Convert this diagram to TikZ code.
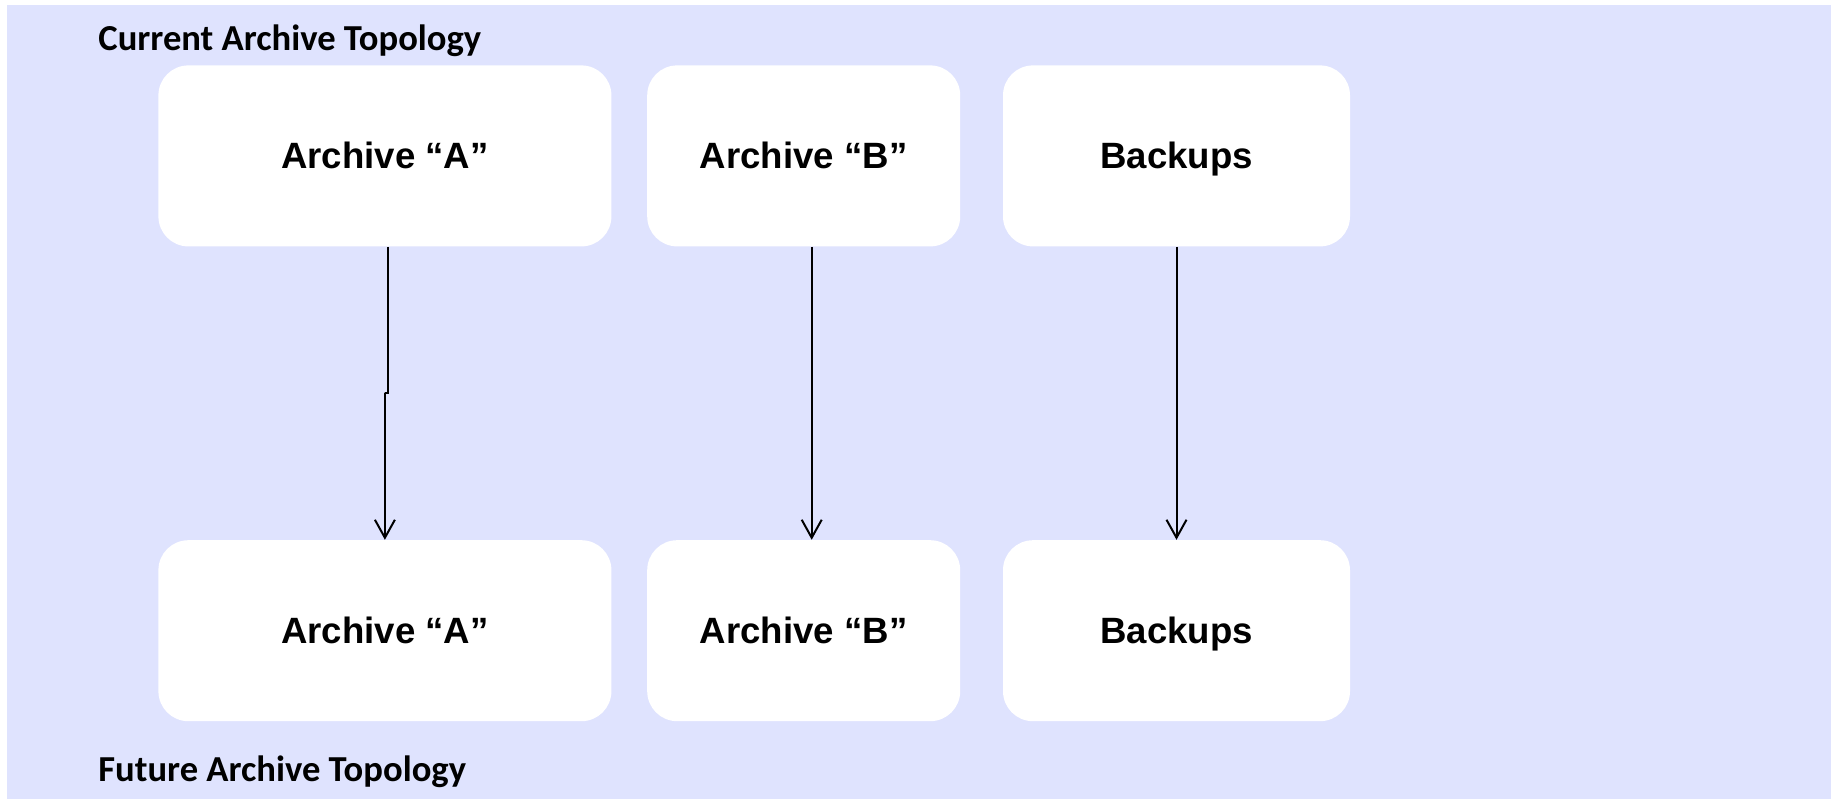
\documentclass[tikz,border=0pt]{standalone}
\usepackage{fontspec}
\setmainfont{Liberation Sans}
\newfontfamily\labelfont{Carlito}
\usepackage{tikz}
\usetikzlibrary{positioning,calc,arrows.meta}
\definecolor{topobg}{RGB}{223,227,254}

\begin{document}
\begin{tikzpicture}[
		x=0.5pt,y=0.5pt,
		box/.style={fill=white, rounded corners=15pt, align=center, minimum height=90.5pt, inner sep=0pt,
			text height=13pt, text depth=0pt,
			font=\fontsize{18.3}{22}\selectfont\bfseries},
		toplabel/.style={anchor=west, inner sep=0pt, font=\labelfont\fontsize{18.3}{22}\selectfont\bfseries},
		link/.style={draw=black, line width=1pt, -{Straight Barb[length=9pt,width=10pt]}}
		]
		% ====== NỀN ======
		\useasboundingbox (0,0) rectangle (1831,799);
		\fill[topobg] (7,0) rectangle (1831,794);
		
		% ====== HÀNG TRÊN ======
		\node[box, anchor=north west, minimum width=226.5pt] (curA) at (158,734) {Archive “A”};
		\node[box, right=17.5pt of curA, minimum width=156.5pt] (curB) {Archive “B”};
		\node[box, right=21pt of curB, minimum width=173.5pt] (curBak) {Backups};
		
		% ====== HÀNG DƯỚI ======
		\node[box, below=146.5pt of curA, minimum width=226.5pt] (futA) {Archive “A”};
		\node[box, below=146.5pt of curB, minimum width=156.5pt] (futB) {Archive “B”};
		\node[box, below=146.5pt of curBak, minimum width=173.5pt] (futBak) {Backups};
		
		% ====== NHÃN ======
		\node[toplabel] (curLbl) at (98,758) {Current Archive Topology};
		\node[toplabel] (futLbl) at (98,27) {Future Archive Topology};
		
		% ====== MŨI TÊN ======
		\coordinate (midA) at ($(curA.south)!0.5!(futA.north)$);
		\draw[link] ([xshift=1.5pt]curA.south) |- (midA) -| (futA.north);
		\draw[link] ([xshift=4pt]curB.south) -- ([xshift=4pt]futB.north);
		\draw[link] (curBak.south) -- (futBak.north);
		
\end{tikzpicture}
\end{document}
